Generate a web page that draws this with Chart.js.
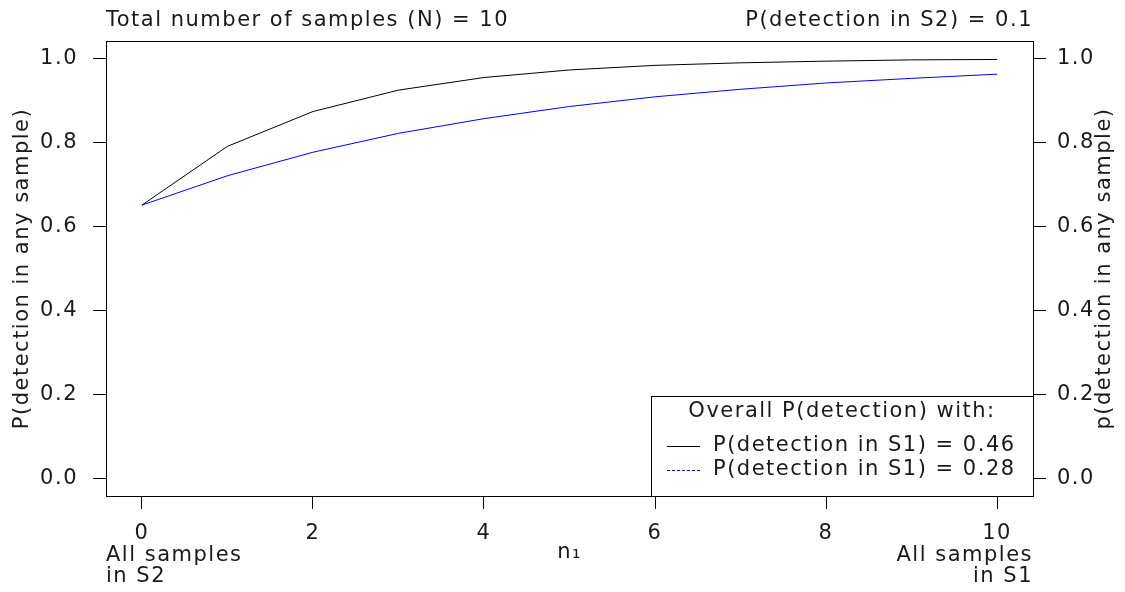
<!DOCTYPE html>
<html>
<head>
<meta charset="utf-8">
<script src="https://cdn.jsdelivr.net/npm/chart.js"></script>
<style>
body { margin: 0; background: #fff; }
canvas { display: block; }
</style>
</head>
<body>
<canvas id="grafico" width="1125" height="592"></canvas>
<script>
// datos
var n1 = [0, 1, 2, 3, 4, 5, 6, 7, 8, 9, 10];
var detS1alta = [0.651, 0.791, 0.874, 0.925, 0.955, 0.973, 0.984, 0.990, 0.994, 0.997, 0.998];
var detS1baja = [0.651, 0.721, 0.777, 0.822, 0.857, 0.886, 0.909, 0.927, 0.942, 0.953, 0.963];
var ticksX = [0, 2, 4, 6, 8, 10];
var ticksY = [0, 0.2, 0.4, 0.6, 0.8, 1.0];
var etiquetas = ['P(detection in S1) = 0.46', 'P(detection in S1) = 0.28'];

var fuente = {family: 'DejaVu Sans', size: 21};
var colorTexto = '#1a1a1a';

function puntos(valores) {
    return n1.map(function (x, i) {
        return {x: x, y: valores[i]};
    });
}

function ejeY(posicion, ancho, pad) {
    return {
        type: 'linear',
        position: posicion,
        min: -0.042,
        max: 1.042,
        afterBuildTicks: function (s) {
            s.ticks = ticksY.map(function (v) { return {value: v}; });
        },
        afterFit: function (s) { s.width = ancho; },
        grid: {drawOnChartArea: false, drawTicks: true, tickLength: 13, tickColor: '#000', tickWidth: 1},
        border: {display: false},
        ticks: {
            font: fuente,
            color: colorTexto,
            padding: pad,
            callback: function (v) { return v.toFixed(1); }
        }
    };
}

// marco, textos extra y leyenda
var marco = {
    id: 'marco',
    beforeDraw: function (chart) {
        chart.ctx.letterSpacing = '1.5px';
    },
    afterDraw: function (chart) {
        var ctx = chart.ctx;
        var a = chart.chartArea;
        var ds = chart.data.datasets;
        ctx.save();
        ctx.strokeStyle = '#000';
        ctx.lineWidth = 1;
        ctx.strokeRect(a.left + 0.5, a.top + 0.5, a.right - a.left, a.bottom - a.top);

        ctx.font = '21px "DejaVu Sans"';
        ctx.fillStyle = colorTexto;
        ctx.textBaseline = 'alphabetic';
        ctx.textAlign = 'left';
        ctx.fillText('Total number of samples (N) = 10', a.left, 26);
        ctx.fillText('All samples', a.left, 561);
        ctx.fillText('in S2', a.left, 582);
        ctx.textAlign = 'right';
        ctx.fillText('P(detection in S2) = 0.1', a.right, 26);
        ctx.fillText('All samples', a.right, 561);
        ctx.fillText('in S1', a.right, 582);

        // titulo del eje derecho
        ctx.save();
        ctx.translate(1105, (a.top + a.bottom) / 2);
        ctx.rotate(-Math.PI / 2);
        ctx.textAlign = 'center';
        ctx.textBaseline = 'middle';
        ctx.fillText('p(detection in any sample)', 0, 0);
        ctx.restore();

        // leyenda
        var lx = 651, ly = 396;
        ctx.fillStyle = '#fff';
        ctx.fillRect(lx, ly, a.right - lx, a.bottom - ly);
        ctx.strokeRect(lx + 0.5, ly + 0.5, a.right - lx, a.bottom - ly);
        ctx.fillStyle = colorTexto;
        ctx.textBaseline = 'middle';
        ctx.textAlign = 'center';
        ctx.fillText('Overall P(detection) with:', (lx + a.right) / 2, 412);
        ctx.textAlign = 'left';
        ds.forEach(function (d, i) {
            var y = 446 + i * 24;
            ctx.strokeStyle = d.borderColor;
            ctx.lineWidth = 1;
            ctx.setLineDash(i === 1 ? [3, 2] : []);
            ctx.beginPath();
            ctx.moveTo(667, y + 0.5);
            ctx.lineTo(700, y + 0.5);
            ctx.stroke();
            ctx.fillText(d.label, 713, y);
        });
        ctx.restore();
    }
};

new Chart(document.getElementById('grafico').getContext('2d'), {
    type: 'line',
    data: {
        datasets: [{
                label: etiquetas[0],
                data: puntos(detS1alta),
                borderColor: '#000000',
                borderWidth: 1,
                pointRadius: 0,
                tension: 0,
                fill: false
            }, {
                label: etiquetas[1],
                data: puntos(detS1baja),
                borderColor: '#0000ff',
                borderWidth: 1,
                pointRadius: 0,
                tension: 0,
                fill: false
            }]
    },
    options: {
        responsive: false,
        animation: false,
        layout: {padding: {top: 41, left: 0, right: 0, bottom: 0}},
        scales: {
            x: {
                type: 'linear',
                min: -0.42,
                max: 10.42,
                afterBuildTicks: function (s) {
                    s.ticks = ticksX.map(function (v) { return {value: v}; });
                },
                afterFit: function (s) { s.height = 96; },
                grid: {drawOnChartArea: false, drawTicks: true, tickLength: 13, tickColor: '#000', tickWidth: 1},
                border: {display: false},
                ticks: {font: fuente, color: colorTexto, padding: 12, maxRotation: 0, autoSkip: false},
                title: {display: true, text: 'n₁', font: fuente, color: colorTexto, padding: {top: 27, bottom: 27}}
            },
            y: (function () {
                var e = ejeY('left', 106, 15);
                e.title = {display: true, text: 'P(detection in any sample)', font: fuente, color: colorTexto, padding: {top: 10, bottom: 10}};
                return e;
            })(),
            y2: ejeY('right', 92, 11)
        },
        plugins: {
            legend: {display: false},
            tooltip: {enabled: false}
        }
    },
    plugins: [marco]
});
</script>
</body>
</html>
